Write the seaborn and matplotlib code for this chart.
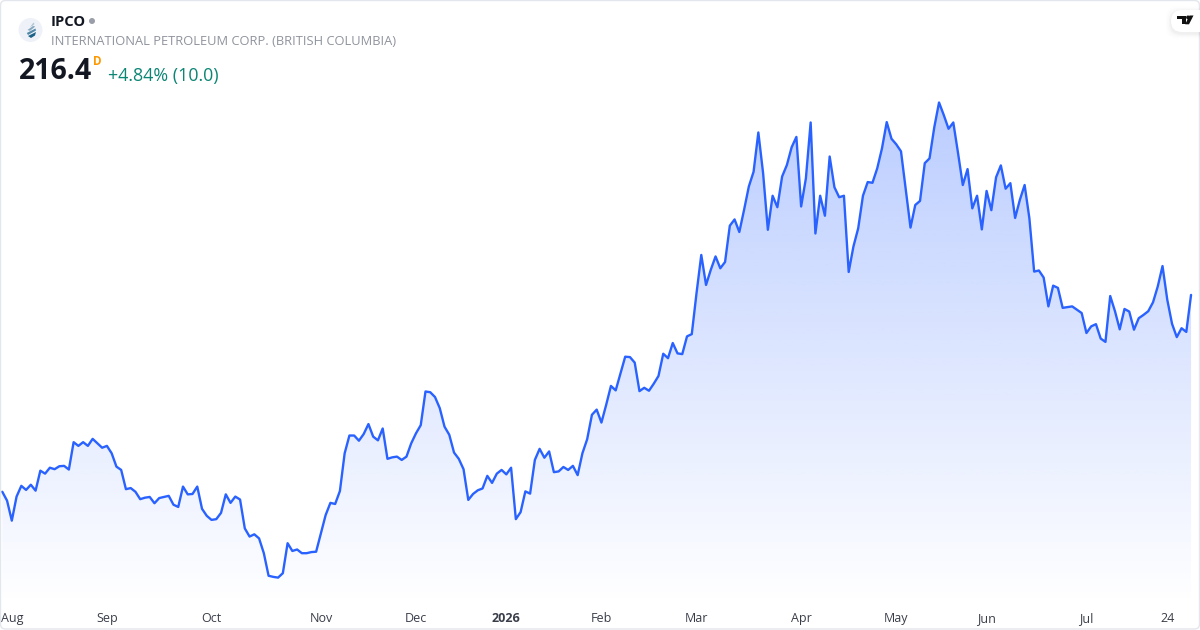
import numpy as np
import pandas as pd
import seaborn as sns
import matplotlib.pyplot as plt
from matplotlib.colors import to_rgb
from matplotlib.patches import Circle, FancyBboxPatch, Polygon, Rectangle

# daily closes
close = [
    163.2, 160.8, 155.4, 161.9, 164.8, 163.7, 165.1, 163.5, 168.9, 168.1, 169.7, 169.3,
    170.1, 170.2, 169.2, 176.6, 175.6, 176.6, 175.6, 177.5, 176.3, 175.1, 175.6, 173.6,
    170.0, 169.1, 163.9, 164.2, 163.2, 161.2, 161.6, 161.8, 160.1, 161.5, 161.8, 162.1,
    159.7, 159.1, 164.6, 162.5, 162.6, 164.6, 158.6, 156.7, 155.6, 155.8, 157.5, 162.5,
    160.2, 161.9, 161.1, 153.3, 151.1, 151.7, 150.6, 146.6, 140.5, 140.2, 140.0, 141.2,
    149.3, 147.2, 147.6, 146.6, 146.6, 146.9, 147.0, 152.0, 156.9, 160.2, 159.9, 163.4,
    173.6, 178.4, 178.4, 177.0, 178.8, 181.5, 178.1, 177.1, 180.3, 172.1, 172.5, 172.7,
    171.8, 172.7, 176.3, 179.0, 181.2, 190.3, 190.1, 188.8, 185.8, 180.8, 178.6, 173.8,
    172.1, 169.3, 161.0, 162.6, 163.6, 164.1, 167.5, 165.6, 168.1, 169.1, 167.9, 169.7,
    155.8, 157.7, 163.3, 162.7, 171.8, 174.8, 172.4, 174.1, 168.5, 168.7, 169.9, 169.1,
    170.2, 167.7, 173.6, 177.4, 184.0, 185.4, 181.9, 186.7, 191.8, 190.6, 195.1, 199.7,
    199.6, 198.1, 190.4, 191.3, 190.5, 192.4, 194.5, 200.5, 199.3, 203.4, 200.6, 200.4,
    205.2, 205.8, 216.9, 227.2, 219.1, 223.2, 226.8, 223.6, 225.3, 235.1, 236.8, 233.4,
    239.4, 245.7, 249.7, 260.3, 249.3, 234.0, 243.2, 240.1, 248.4, 251.5, 256.3, 259.1,
    240.3, 247.9, 263.0, 233.0, 243.2, 237.8, 253.8, 245.5, 242.8, 243.2, 222.6, 229.5,
    234.4, 243.2, 246.9, 246.7, 250.6, 256.0, 263.1, 258.6, 257.1, 255.2, 244.8, 234.6,
    240.7, 241.8, 252.0, 253.3, 261.7, 268.4, 265.0, 261.3, 263.0, 254.7, 246.1, 250.4,
    239.8, 243.2, 234.1, 244.5, 239.3, 248.2, 251.4, 245.1, 246.6, 237.2, 242.1, 246.1,
    237.1, 222.7, 223.0, 221.1, 213.3, 218.9, 218.3, 212.9, 213.1, 213.3, 212.4, 211.5,
    206.1, 207.9, 208.5, 204.6, 203.7, 216.1, 212.0, 207.1, 212.6, 211.9, 207.0, 210.1,
    211.0, 212.0, 214.4, 218.7, 224.2, 215.1, 208.6, 205.0, 207.4, 206.4, 216.4,
]
tick_days = [2, 22, 44, 67, 87, 106, 126, 146, 168, 188, 207, 228, 245]
tick_names = ["Aug", "Sep", "Oct", "Nov", "Dec", "2026", "Feb", "Mar", "Apr", "May", "Jun", "Jul", "24"]

BLUE = "#2962ff"
DARK = "#131722"

sns.set_theme(style="white")
plt.rcParams["font.family"] = ["Open Sans", "DejaVu Sans"]

df = pd.DataFrame({"day": np.arange(len(close)), "close": close})

fig = plt.figure(figsize=(12, 6.3), dpi=100, facecolor="white")
ax = fig.add_axes([0, 25 / 630, 1, 605 / 630])
ax.set_facecolor("white")

# area under the line, blue fading out to white
x0, x1 = -2.3 / 4.755, (1200 - 2.3) / 4.755
y0, y1 = 132.6, 296.1
area = ax.fill_between(df["day"], y0, df["close"], facecolor="none", edgecolor="none")
grad = np.zeros((256, 1, 4))
grad[:, :, :3] = to_rgb(BLUE)
grad[:, 0, 3] = np.linspace(0.32, 0.0, 256)
im = ax.imshow(grad, extent=(x0, x1, y0, 268.4), aspect="auto", origin="upper", zorder=1)
im.set_clip_path(area.get_paths()[0], transform=ax.transData)

sns.lineplot(data=df, x="day", y="close", color=BLUE, linewidth=1.7, ax=ax, zorder=3)

ax.set_xlim(x0, x1)
ax.set_ylim(y0, y1)
ax.set_xlabel("")
ax.set_ylabel("")
ax.set_yticks([])
ax.set_xticks(tick_days)
ax.set_xticklabels(tick_names, va="baseline")
ax.tick_params(axis="x", length=0, pad=12.2, labelsize=9, labelcolor="#3a3e49")
ax.get_xticklabels()[5].set_fontweight("bold")
sns.despine(ax=ax, left=True, bottom=True)

# overlay in pixel coordinates for the header and the frame
ov = fig.add_axes([0, 0, 1, 1], facecolor="none")
ov.set_xlim(0, 1200)
ov.set_ylim(630, 0)
ov.axis("off")

ov.add_patch(FancyBboxPatch((0.5, 0.5), 1199, 628.5, boxstyle="round,pad=0,rounding_size=5",
                            fc="none", ec="#e3e6ec", lw=1.0))

# company logo
ov.add_patch(Circle((30.5, 30), 12, fc="#eef2f8", ec="none"))
stripes = [
    ([(30, 27), (33.5, 22.5), (34.5, 24), (33, 25.5)], "#b4c6d4"),
    ([(27.5, 30), (33, 26), (35.3, 26.5), (30, 30.8)], "#86a7be"),
    ([(26.8, 33), (35.5, 28.5), (36, 30.5), (28, 35)], "#5389a8"),
    ([(28, 36), (36, 32), (35, 35.5), (31, 38)], "#1c6288"),
]
for pts, col in stripes:
    ov.add_patch(Polygon(pts, fc=col, ec="none"))

ov.text(51, 21.5, "IPCO", fontsize=10.6, fontweight="bold", color=DARK, va="center", ha="left")
ov.add_patch(Circle((92, 21), 3, fc="#9a9ea8", ec="none"))
ov.text(51, 41.5, "INTERNATIONAL PETROLEUM CORP. (BRITISH COLUMBIA)", fontsize=9.27, color="#8f939c",
        va="center", ha="left")
ov.text(19, 71.5, "216.4", fontsize=20.6, fontweight="bold", color=DARK, va="center", ha="left")
ov.text(93, 61.5, "D", fontsize=8.5, fontweight="bold", color="#ff9800", va="center", ha="left")
ov.text(108, 75.5, "+4.84% (10.0)", fontsize=12.9, color="#0b8574", va="center", ha="left")

# tradingview badge
for pad, alpha in [(5, 0.008), (3.5, 0.012), (2, 0.018), (1, 0.02)]:
    ov.add_patch(FancyBboxPatch((1171 - pad, 10 - pad + 1.5), 40 + 2 * pad, 22 + 2 * pad,
                                boxstyle="round,pad=0,rounding_size=11", fc="black", ec="none", alpha=alpha))
ov.add_patch(FancyBboxPatch((1171, 10), 40, 22, boxstyle="round,pad=0,rounding_size=11", fc="white", ec="none"))
ov.add_patch(Rectangle((1177, 15.5), 9, 3.8, fc="#111111", ec="none"))
ov.add_patch(Rectangle((1182, 15.5), 4, 8.8, fc="#111111", ec="none"))
ov.add_patch(Circle((1188, 17.4), 1.9, fc="#111111", ec="none"))
ov.add_patch(Polygon([(1189.5, 15.5), (1193.5, 15.5), (1189, 24.3), (1185.2, 24.3)], fc="#111111", ec="none"))

fig.savefig("out.png", dpi=100)
